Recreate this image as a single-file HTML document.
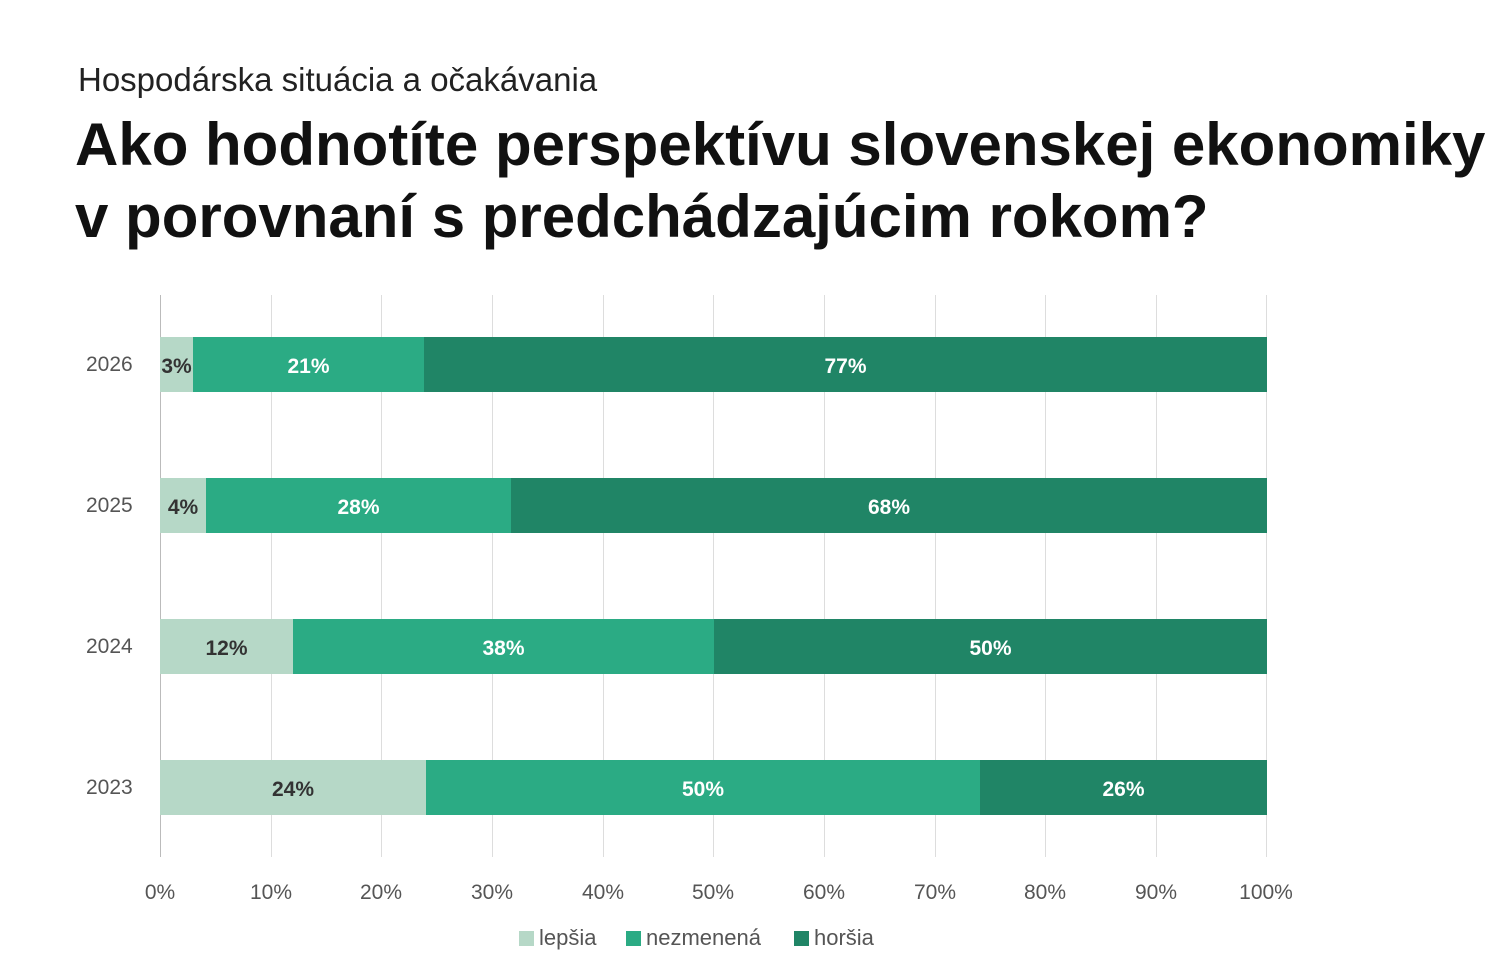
<!DOCTYPE html>
<html><head><meta charset="utf-8"><style>
body{margin:0;width:1503px;height:964px;background:#fff;font-family:"Liberation Sans","DejaVu Sans",sans-serif;position:relative;overflow:hidden}
div{position:absolute}
.g{width:1px;background:#ddd;top:295px;height:562px}
.b{height:55px;display:flex;align-items:center;justify-content:center;font-weight:bold;font-size:21px;padding-top:4px;box-sizing:border-box}
.l{background:#b6d8c7;color:#333}.m{background:#2bab84;color:#fff}.d{background:#208566;color:#fff}
.y{left:86px;font-size:21px;color:#555}
.t{top:881px;font-size:21px;color:#555;width:80px;margin-left:-40px;text-align:center}
.k{top:925px;font-size:22px;color:#555;display:flex;align-items:center}
.k span{display:inline-block;width:15px;height:15px;margin-right:5px}
</style></head><body>
<div style="left:78px;top:61px;font-size:33px;color:#222">Hospodárska situácia a očakávania</div>
<div style="left:75px;top:109px;font-size:60px;font-weight:bold;color:#111;line-height:72px;white-space:nowrap">Ako hodnotíte perspektívu slovenskej ekonomiky<br>v porovnaní s predchádzajúcim rokom?</div>
<div class="g" style="left:160px;background:#bbb"></div><div class="g" style="left:271px"></div><div class="g" style="left:381px"></div><div class="g" style="left:492px"></div><div class="g" style="left:603px"></div><div class="g" style="left:713px"></div><div class="g" style="left:824px"></div><div class="g" style="left:935px"></div><div class="g" style="left:1045px"></div><div class="g" style="left:1156px"></div><div class="g" style="left:1266px"></div>
<div class="y" style="top:353px">2026</div><div class="y" style="top:494px">2025</div><div class="y" style="top:635px">2024</div><div class="y" style="top:776px">2023</div>
<div class="b l" style="top:337px;left:160px;width:33px">3%</div><div class="b m" style="top:337px;left:193px;width:231px">21%</div><div class="b d" style="top:337px;left:424px;width:843px">77%</div>
<div class="b l" style="top:478px;left:160px;width:46px">4%</div><div class="b m" style="top:478px;left:206px;width:305px">28%</div><div class="b d" style="top:478px;left:511px;width:756px">68%</div>
<div class="b l" style="top:619px;left:160px;width:133px">12%</div><div class="b m" style="top:619px;left:293px;width:421px">38%</div><div class="b d" style="top:619px;left:714px;width:553px">50%</div>
<div class="b l" style="top:760px;left:160px;width:266px">24%</div><div class="b m" style="top:760px;left:426px;width:554px">50%</div><div class="b d" style="top:760px;left:980px;width:287px">26%</div>
<div class="t" style="left:160px">0%</div><div class="t" style="left:271px">10%</div><div class="t" style="left:381px">20%</div><div class="t" style="left:492px">30%</div><div class="t" style="left:603px">40%</div><div class="t" style="left:713px">50%</div><div class="t" style="left:824px">60%</div><div class="t" style="left:935px">70%</div><div class="t" style="left:1045px">80%</div><div class="t" style="left:1156px">90%</div><div class="t" style="left:1266px">100%</div>
<div class="k" style="left:519px"><span style="background:#b6d8c7"></span>lepšia</div>
<div class="k" style="left:626px"><span style="background:#2bab84"></span>nezmenená</div>
<div class="k" style="left:794px"><span style="background:#208566"></span>horšia</div>
</body></html>
